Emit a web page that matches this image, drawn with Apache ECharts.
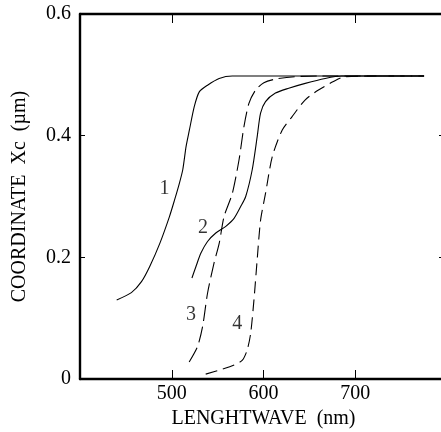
<!DOCTYPE html>
<html><head><meta charset="utf-8">
<script src="https://cdn.jsdelivr.net/npm/echarts@6/dist/echarts.min.js"></script>
<style>html,body{margin:0;padding:0;background:#fff}#c{width:441px;height:432px}</style>
</head><body><div id="c"></div>
<script>
const xTicks = [500, 600, 700];
const yTicks = [0, 0.2, 0.4, 0.6];
const curve1X = [440, 456, 467, 476, 487, 497.5, 503, 508, 512, 515.6, 519.2, 524.6, 530, 539, 551.7, 566, 620, 700, 775];
const curve1Y = [0.130, 0.142, 0.160, 0.185, 0.223, 0.267, 0.294, 0.320, 0.344, 0.382, 0.409, 0.448, 0.472, 0.483, 0.494, 0.498, 0.498, 0.498, 0.498];
const curve2X = [522, 526.4, 531.8, 539, 548, 558.9, 567.9, 575, 580.6, 587.7, 593.1, 596.8, 602.2, 613, 627.5, 645.5, 667.2, 685, 730, 775];
const curve2Y = [0.166, 0.185, 0.207, 0.226, 0.240, 0.251, 0.264, 0.283, 0.300, 0.344, 0.398, 0.437, 0.456, 0.470, 0.478, 0.486, 0.494, 0.498, 0.498, 0.498];
const curve3X = [519, 528, 533.6, 539, 546, 551.7, 557, 566, 573.3, 578.7, 584.1, 591.4, 600.4, 613, 634.7, 660, 720, 775];
const curve3Y = [0.028, 0.053, 0.086, 0.141, 0.190, 0.223, 0.267, 0.305, 0.360, 0.415, 0.453, 0.475, 0.487, 0.493, 0.497, 0.498, 0.498, 0.498];
const curve4X = [537, 555, 568, 577, 582.3, 586, 589.6, 593.1, 596.8, 602.2, 609.5, 620.3, 631, 645.5, 659.9, 676.2, 688.9, 730, 775];
const curve4Y = [0.008, 0.016, 0.023, 0.031, 0.048, 0.075, 0.130, 0.196, 0.261, 0.305, 0.365, 0.409, 0.431, 0.459, 0.475, 0.489, 0.497, 0.498, 0.498];
const curveNames = ['1', '2', '3', '4'];
const curveLabelX = [492, 534, 521, 571.5];
const curveLabelY = [0.313, 0.248, 0.105, 0.091];

const pairs = (xs, ys) => xs.map((x, i) => [x, ys[i]]);
const font = 'Liberation Serif';
const fs = 20;
const chart = echarts.init(document.getElementById('c'), null, {renderer: 'canvas'});
const lineSeries = (d, type) => ({
  type: 'line', data: d, showSymbol: false, smooth: 0.25,
  lineStyle: {color: '#000', width: 1.1, type: type}, silent: true
});
chart.setOption({
  animation: false,
  grid: {left: 80, top: 14, width: 367, height: 365, outerBoundsMode: 'none', containLabel: false},
  xAxis: [{
    type: 'value', min: 400, max: 800, interval: 100, position: 'bottom',
    name: 'LENGHTWAVE  (nm)', nameLocation: 'middle', nameGap: 28,
    nameTextStyle: {fontFamily: font, fontSize: fs, color: '#000'},
    axisLine: {onZero: false, lineStyle: {color: '#000', width: 2.4}},
    axisTick: {inside: true, length: 9, lineStyle: {color: '#000', width: 1}},
    axisLabel: {fontFamily: font, fontSize: fs, color: '#000', margin: 5,
      formatter: v => xTicks.includes(v) ? String(v) : ''},
    splitLine: {show: false}
  }, {
    type: 'value', min: 400, max: 800, interval: 100, position: 'top',
    axisLine: {onZero: false, lineStyle: {color: '#000', width: 2.4}},
    axisTick: {inside: true, length: 9, lineStyle: {color: '#000', width: 1}},
    axisLabel: {show: false}, splitLine: {show: false}
  }],
  yAxis: [{
    type: 'value', min: 0, max: 0.6, interval: 0.2, position: 'left',
    name: 'COORDINATE  Xc  (\u00b5m)', nameLocation: 'middle', nameGap: 50,
    nameTextStyle: {fontFamily: font, fontSize: fs, color: '#000'},
    axisLine: {onZero: false, lineStyle: {color: '#000', width: 2.4}},
    axisTick: {inside: true, length: 5, lineStyle: {color: '#000', width: 1}},
    axisLabel: {fontFamily: font, fontSize: fs, color: '#000', margin: 9,
      formatter: v => { const t = yTicks.find(k => Math.abs(k - v) < 1e-9); return t === undefined ? '' : String(t); }},
    splitLine: {show: false}
  }, {
    type: 'value', min: 0, max: 0.6, interval: 0.2, position: 'right',
    axisLine: {onZero: false, lineStyle: {color: '#000', width: 2.4}},
    axisTick: {inside: true, length: 8, lineStyle: {color: '#000', width: 1}},
    axisLabel: {show: false}, splitLine: {show: false}
  }],
  series: [
    lineSeries(pairs(curve1X, curve1Y), 'solid'),
    lineSeries(pairs(curve2X, curve2Y), 'solid'),
    lineSeries(pairs(curve3X, curve3Y), [16, 6]),
    lineSeries(pairs(curve4X, curve4Y), [12, 6]),
    {
      type: 'scatter', symbolSize: 0, silent: true,
      data: curveNames.map((n, i) => ({value: [curveLabelX[i], curveLabelY[i]], name: n})),
      label: {show: true, position: 'inside', formatter: p => p.name,
        fontFamily: font, fontSize: fs, color: '#000'}
    }
  ]
});
</script></body></html>
